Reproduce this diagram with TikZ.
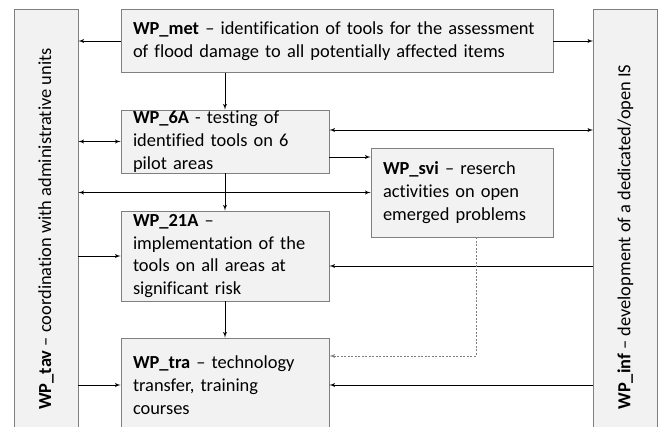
\documentclass[tikz,border=0pt]{standalone}
\usepackage{fontspec}
\setmainfont{Carlito}[Ligatures=NoCommon]
\usetikzlibrary{arrows}
\usetikzlibrary{calc}
\definecolor{boxfill}{HTML}{F2F2F2}
\definecolor{boxline}{HTML}{7F7F7F}
\tikzset{wp/.style={draw=boxline, fill=boxfill, line width=0.9pt, align=left, inner xsep=12pt, inner ysep=0pt, font=\fontsize{18.4}{22.8}\selectfont},
  bar/.style={wp, rotate=90, align=center, inner sep=0pt, minimum height=64pt}}

\begin{document}
\begin{tikzpicture}[x=1pt,y=-1pt,>=latex',line width=0.9pt]
\clip (0,0) rectangle (659,426);
\node[bar, minimum width=440pt] at (46,229) (tav) {\textbf{WP\_tav} – coordination with administrative units};
\node[bar, minimum width=456pt] at (625.5,237) (inf) {\textbf{WP\_inf} – development of a dedicated/open IS};
\node[wp, minimum height=63pt, text width=408pt] at (337,41) (met) {\textbf{WP\_met} – identification of tools for the assessment\\of flood damage to all potentially affected items};
\node[wp, minimum height=63pt, text width=184pt] at (225,141.5) (sixA) {\textbf{WP\_6A} - testing of\\identified tools on 6\\pilot areas};
\node[wp, minimum height=89pt, text width=158pt] at (462,192.5) (svi) {\textbf{WP\_svi} – reserch\\activities on open\\emerged problems};
\node[wp, minimum height=90pt, text width=184pt] at (225,256) (imp) {\textbf{WP\_21A} –\\implementation of the\\tools on all areas at\\significant risk};
\node[wp, minimum height=94pt, text width=184pt] at (225,385) (tra) {\textbf{WP\_tra} – technology\\transfer, training\\courses};
% side points on the boxes
\coordinate (sixAup) at ([yshift=11.5pt]sixA.east);
\coordinate (sixAdn) at ([yshift=-15.5pt]sixA.east);
\coordinate (impdn) at ([yshift=-10pt]imp.east);
\coordinate (svidot) at ([xshift=14pt]svi.south);
\coordinate (tradot) at ([yshift=29pt]tra.east);
% tav: right edge is tav.south, inf: left edge is inf.north (rotated)
\draw[->](met.west) to (tav.south |- met.west);
\draw[->](met.east) to (inf.north |- met.east);
\draw[->](sixA.north |- met.south) to (sixA.north);
\draw[<->](tav.south |- sixA.west) to (sixA.west);
\draw[<->](sixAup) to (inf.north |- sixAup);
\draw[->](sixAdn) to (svi.west |- sixAdn);
\draw[<->](tav.south |- svi.west) to (svi.west);
\draw[->](sixA.south) to (imp.north);
\draw[->](tav.south |- imp.west) to (imp.west);
\draw[->](inf.north |- impdn) to (impdn);
\draw[->](imp.south) to (tra.north);
\draw[->, boxline, dash pattern=on 2pt off 1.5pt](svidot) |- (tradot);
\draw[->](tav.south |- tra.west) to (tra.west);
\draw[->](inf.north |- tra.east) to (tra.east);
\end{tikzpicture}
\end{document}
